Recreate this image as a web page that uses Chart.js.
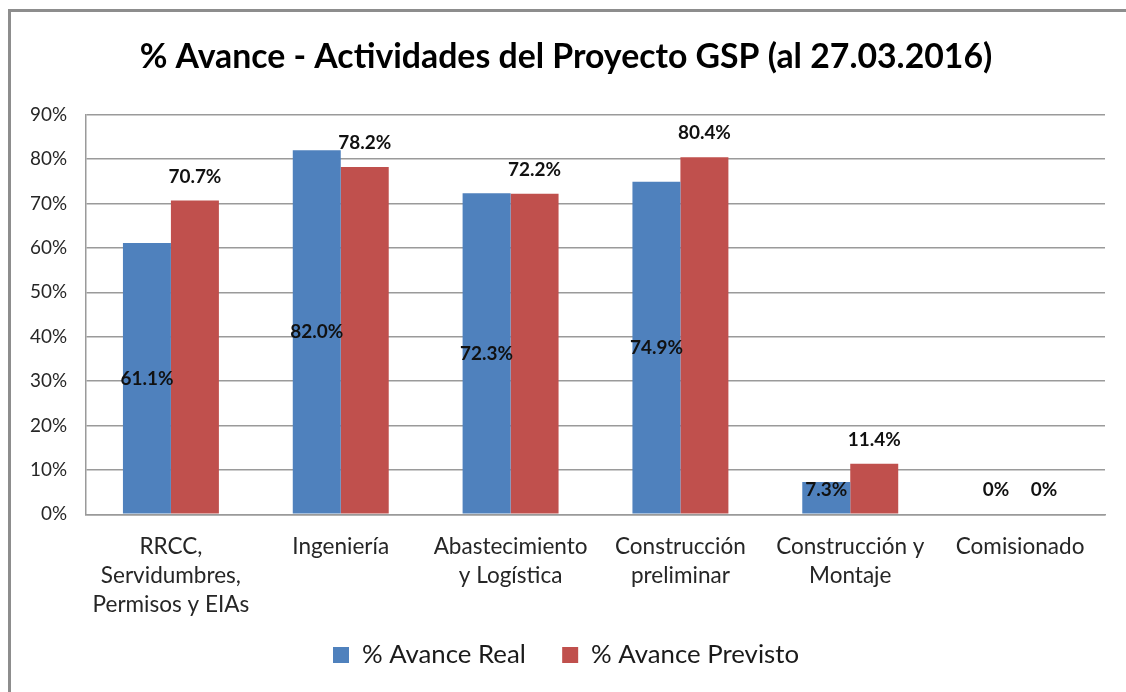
<!DOCTYPE html>
<html>
<head>
<meta charset="utf-8">
<script src="https://cdn.jsdelivr.net/npm/chart.js@4/dist/chart.umd.min.js"></script>
<style>
  html, body { margin: 0; padding: 0; background: #fff; width: 1126px; height: 692px; overflow: hidden; }
  #frame { position: absolute; left: 8px; top: 9px; width: 1300px; height: 900px; border: 3px solid #8d8d8d; box-sizing: border-box; }
  #wrap { position: absolute; left: 0; top: 0; width: 1126px; height: 692px; }
</style>
</head>
<body>
<div id="frame"></div>
<div id="wrap"><canvas id="c" width="1126" height="692"></canvas></div>
<script>
// ---- data ----
const categories = [
  ["RRCC,", "Servidumbres,", "Permisos y EIAs"],
  ["Ingeniería"],
  ["Abastecimiento", "y Logística"],
  ["Construcción", "preliminar"],
  ["Construcción y", "Montaje"],
  ["Comisionado"]
];
const seriesNames = ["% Avance Real", "% Avance Previsto"];
const avanceReal = [61.1, 82.0, 72.3, 74.9, 7.3, 0];
const avancePrevisto = [70.7, 78.2, 72.2, 80.4, 11.4, 0];
const yTicks = [0, 10, 20, 30, 40, 50, 60, 70, 80, 90];
const titleText = "% Avance - Actividades del Proyecto GSP (al 27.03.2016)";

// ---- font fitting ----
const FAMILY = "Lato, 'Open Sans', sans-serif";
const mctx = document.createElement('canvas').getContext('2d');
function textW(text, weight, size) {
  mctx.font = `${weight} ${size}px ${FAMILY}`;
  return mctx.measureText(text).width;
}
function fitSize(text, weight, target) {
  return 100 * target / textW(text, weight, 100);
}
const titleSize = fitSize(titleText, 'bold', 853);
const yTickSize = fitSize("90%", 'normal', 37);
const xTickSize = fitSize("Abastecimiento", 'normal', 154);
const legendSize = fitSize(seriesNames[1], 'normal', 208);
const labelSize = fitSize("61.1%", 'bold', 53);

// ---- layout targets ----
const PLOT_LEFT = 86, PLOT_RIGHT = 1105, PLOT_TOP = 114.7, PLOT_BOTTOM = 514.3;
const PAD_L = 27, PAD_R = 1126 - PLOT_RIGHT;
const BOX = 16;
const w1 = textW(seriesNames[0], 'normal', legendSize);
const w2 = textW(seriesNames[1], 'normal', legendSize);
const legendPad = Math.max(4, 466 - (2 * BOX + legendSize + w1 + w2));
const itemH = Math.max(legendSize, BOX);
const legendCenter = 655;
const legendTop = legendCenter - legendPad - itemH / 2;
const legendBottom = legendTop + itemH + legendPad + 10;
const PAD_B = 692 - legendBottom;
const X_AXIS_H = legendTop - PLOT_BOTTOM;
const titleCenter = 57;
const T_TOP = titleCenter - 0.6 * titleSize;
const T_BOT = PLOT_TOP - (T_TOP + 1.2 * titleSize);

const labelPlugin = {
  id: 'barLabels',
  afterDatasetsDraw(chart) {
    const ctx = chart.ctx;
    const base = chart.scales.y.getPixelForValue(0);
    ctx.save();
    ctx.font = `bold ${labelSize}px ${FAMILY}`;
    ctx.fillStyle = '#111';
    ctx.textAlign = 'center';
    ctx.textBaseline = 'middle';
    chart.data.datasets.forEach((ds, di) => {
      const meta = chart.getDatasetMeta(di);
      meta.data.forEach((bar, i) => {
        const v = ds.data[i];
        const txt = v === 0 ? '0%' : v.toFixed(1) + '%';
        let y;
        if (di === 0) {
          y = Math.min((bar.y + base) / 2, base - 24);
        } else {
          y = bar.y - 24;
        }
        ctx.fillText(txt, bar.x, y);
      });
    });
    ctx.restore();
  }
};

new Chart(document.getElementById('c'), {
  type: 'bar',
  data: {
    labels: categories,
    datasets: [
      { label: seriesNames[0], data: avanceReal, backgroundColor: '#4F81BD', borderWidth: 0 },
      { label: seriesNames[1], data: avancePrevisto, backgroundColor: '#C0504D', borderWidth: 0 }
    ]
  },
  options: {
    responsive: false,
    animation: false,
    devicePixelRatio: 1,
    layout: { padding: { left: PAD_L, right: PAD_R, top: 0, bottom: PAD_B } },
    datasets: { bar: { categoryPercentage: 0.565, barPercentage: 1.0 } },
    plugins: {
      tooltip: { enabled: false },
      title: {
        display: true,
        text: titleText,
        color: '#000',
        font: { family: FAMILY, size: titleSize, weight: 'bold', lineHeight: 1.2 },
        padding: { top: T_TOP, bottom: T_BOT }
      },
      legend: {
        display: true,
        position: 'bottom',
        labels: {
          boxWidth: BOX,
          boxHeight: BOX,
          padding: legendPad,
          color: '#1a1a1a',
          font: { family: FAMILY, size: legendSize }
        }
      }
    },
    scales: {
      x: {
        grid: { display: false, drawTicks: false, tickLength: 0 },
        border: { display: true, color: '#9a9a9a', width: 1.5 },
        ticks: {
          autoSkip: false, maxRotation: 0, minRotation: 0,
          padding: 18.2,
          color: '#262626',
          font: { family: FAMILY, size: xTickSize, lineHeight: '29px' }
        },
        afterFit(scale) {
          scale.height = X_AXIS_H;
          // allow the wrapped category labels to extend below the axis box
          scale._computeLabelArea = () => undefined;
        }
      },
      y: {
        min: 0, max: 90,
        afterBuildTicks(scale) { scale.ticks = yTicks.map(v => ({ value: v })); },
        grid: { color: '#9a9a9a', lineWidth: 1.5, drawTicks: false, tickLength: 0 },
        border: { display: true, color: '#9a9a9a', width: 1.5 },
        ticks: {
          padding: 19,
          color: '#262626',
          font: { family: FAMILY, size: yTickSize },
          callback: (v) => v + '%'
        },
        afterFit(scale) { scale.width = PLOT_LEFT - PAD_L; }
      }
    }
  },
  plugins: [labelPlugin]
});
</script>
</body>
</html>
